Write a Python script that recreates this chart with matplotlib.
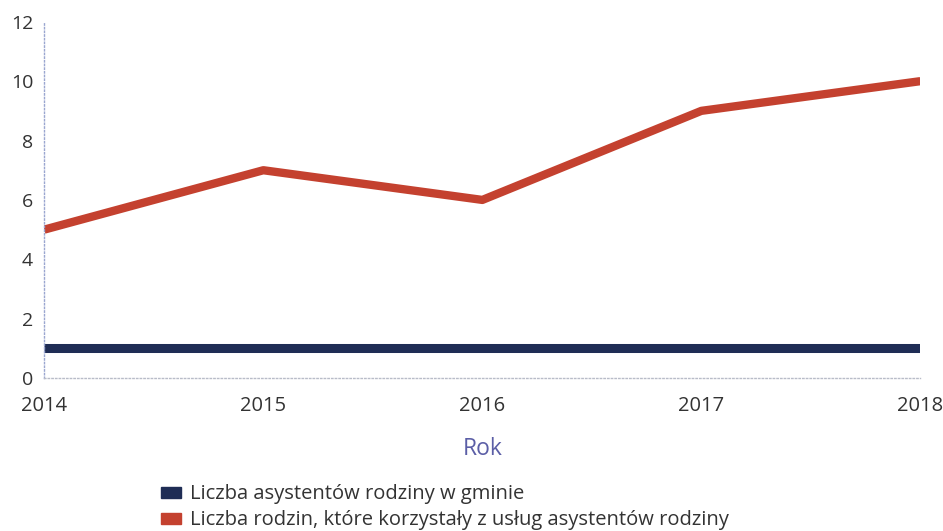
import matplotlib.pyplot as plt
from matplotlib.patches import Patch

plt.rcParams['font.family'] = ['Open Sans', 'DejaVu Sans']

# Data
years = [2014, 2015, 2016, 2017, 2018]
asystenci = [1, 1, 1, 1, 1]
rodziny = [5, 7, 6, 9, 10]
labels = ['Liczba asystentów rodziny w gminie',
          'Liczba rodzin, które korzystały z usług asystentów rodziny']

navy = '#1f2d55'
red = '#c4412f'
text_col = '#333333'

fig = plt.figure(figsize=(9.43, 5.31), dpi=100)
ax = fig.add_axes([0.047, 0.288, 0.929, 0.671])

ax.plot(years, asystenci, color=navy, lw=6.5, solid_capstyle='butt')
ax.plot(years, rodziny, color=red, lw=6, solid_capstyle='butt', solid_joinstyle='round')

ax.set_xlim(2014, 2018)
ax.set_ylim(0, 12)
ax.set_xticks(years)
ax.set_yticks(range(0, 13, 2))
ax.tick_params(length=0, colors=text_col)
ax.tick_params(axis='y', pad=8, labelsize=14)
ax.tick_params(axis='x', pad=13, labelsize=14.5)

for s in ['top', 'right']:
    ax.spines[s].set_visible(False)
ax.spines['left'].set_color('#9aa6d0')
ax.spines['left'].set_linestyle(':')
ax.spines['left'].set_linewidth(1)
ax.spines['bottom'].set_color('#b8bcc8')
ax.spines['bottom'].set_linestyle(':')
ax.spines['bottom'].set_linewidth(1)

ax.set_xlabel('Rok', fontsize=16.5, color='#5b5ea6', labelpad=15)

handles = [Patch(color=navy), Patch(color=red)]
fig.legend(handles, labels, loc='upper left', bbox_to_anchor=(0.171, 0.088),
           frameon=False, fontsize=14.5, labelcolor=text_col,
           handlelength=1.0, handleheight=0.45, handletextpad=0.45,
           labelspacing=0.3, borderaxespad=0, borderpad=0)

fig.savefig('out.png', dpi=100)
